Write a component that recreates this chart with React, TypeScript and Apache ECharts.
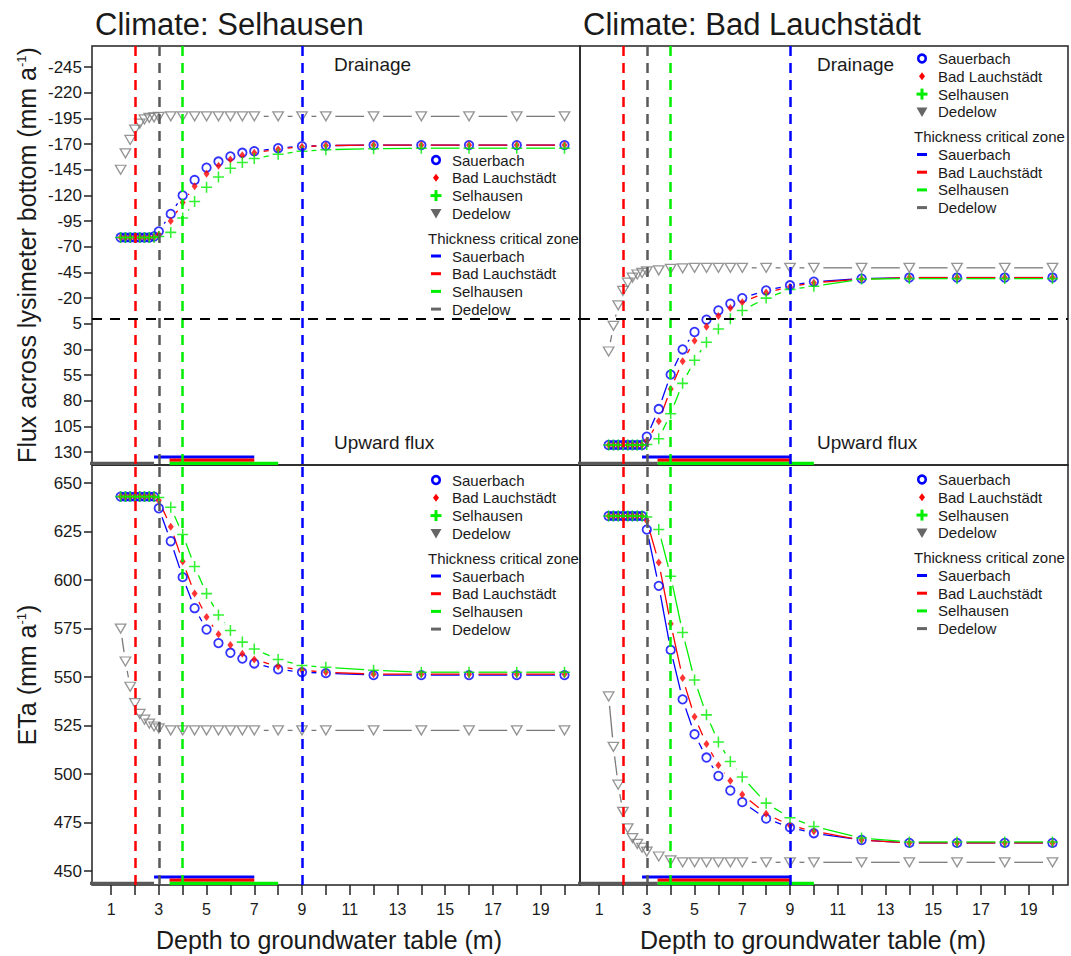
import React, { useEffect, useRef } from 'react';
import * as echarts from 'echarts';

const FONT = '"Liberation Sans", Arial, Helvetica, sans-serif';
const INK = '#1a1a1a';

// Sites: marker / line colours and the colour of their critical-zone bars
const sites = ['Sauerbach', 'Bad Lauchstädt', 'Selhausen', 'Dedelow'];
const siteColors = ['#0000ff', '#ff0000', '#00ee00', '#7a7a7a'];
const zoneColors = ['#0000ff', '#ff0000', '#00ee00', '#595959'];

// Depth (m) at which each site's dashed reference line is drawn
const criticalDepth = [9, 2, 4, 3];

// Thickness of the critical zone [from, to] (m), per site
const zoneSelhausenClimate = [[2.8, 7], [3.45, 7], [3.45, 8], [0, 2.8]];
const zoneBadLauchstaedtClimate = [[2.8, 9], [3.45, 9], [3.45, 10], [0, 3.45]];

// Depth to groundwater table (m)
const depth = [1.4, 1.6, 1.8, 2.0, 2.2, 2.4, 2.6, 2.8, 3.0, 3.5, 4.0, 4.5, 5.0, 5.5, 6.0, 6.5, 7.0, 8, 9, 10, 12, 14, 16, 18, 20];

// Axis ticks
const depthTicks = [1, 2, 3, 4, 5, 6, 7, 8, 9, 10, 11, 12, 13, 14, 15, 16, 17, 18, 19, 20];
const depthLabels = [1, 3, 5, 7, 9, 11, 13, 15, 17, 19];
const fluxTicks = [-245, -220, -195, -170, -145, -120, -95, -70, -45, -20, 5, 30, 55, 80, 105, 130];
const etaTicks = [450, 475, 500, 525, 550, 575, 600, 625, 650];

// Flux across lysimeter bottom (mm a-1), climate Selhausen
const fluxSelSauerbach = [-79, -79, -79, -79, -79, -79, -79, -80, -85, -102, -120, -135, -147, -153, -158, -161.5, -163, -166, -168, -168.5, -169, -169, -169, -169, -169];
const fluxSelBadLauchstaedt = [-79, -79, -79, -79, -79, -79, -79, -79.5, -82, -95, -113, -129, -141, -149, -155, -159, -161.5, -165, -167.5, -168.5, -169, -169, -169, -169, -169];
const fluxSelSelhausen = [-79, -79, -79, -79, -79, -79, -79, -79, -80, -84, -98, -114, -128, -138, -146.5, -152, -156, -160, -163, -164.5, -165.5, -166, -166, -166, -166];
const fluxSelDedelow = [-145, -161, -174, -184, -190, -194, -195.5, -196, -196.5, -197, -197, -197, -197, -197, -197, -197, -197, -197, -197, -197, -197, -197, -197, -197, -197];

// Flux across lysimeter bottom (mm a-1), climate Bad Lauchstädt
const fluxBLSauerbach = [123, 123, 123, 123, 123, 123, 123, 123, 115, 88, 54.5, 30, 13, 1, -8, -14.5, -20, -27.5, -32.5, -36, -39, -40, -40, -40, -40];
const fluxBLBadLauchstaedt = [123, 123, 123, 123, 123, 123, 123, 123, 119, 100, 68.5, 41.5, 21.5, 8, -2.5, -10.5, -16, -25.5, -31, -35, -38.5, -40, -40, -40, -40];
const fluxBLSelhausen = [123, 123, 123, 123, 123, 123, 123, 123, 122.5, 117, 92.5, 63, 40.5, 23, 10, 0, -8, -20, -28.5, -31.5, -38.5, -39, -39, -39, -39];
const fluxBLDedelow = [32, 7, -13, -27, -35, -40, -43, -44.5, -46, -47, -48.5, -49, -49.5, -49.5, -49.5, -49.5, -49.5, -49.5, -49.5, -49.5, -49.5, -49.5, -49.5, -49.5, -49.5];

// Actual evapotranspiration ETa (mm a-1), climate Selhausen
const etaSelSauerbach = [643, 643, 643, 643, 643, 643, 643, 643, 637, 620, 601.5, 585.5, 574.5, 567.5, 562.5, 559.5, 557, 554, 552.5, 552, 551, 551, 551, 551, 551];
const etaSelBadLauchstaedt = [643, 643, 643, 643, 643, 643, 643, 643, 641, 627.5, 609.5, 593, 581, 572, 566.5, 562, 559, 555.5, 553.5, 552.5, 551.5, 551.5, 551.5, 551.5, 551.5];
const etaSelSelhausen = [643, 643, 643, 643, 643, 643, 643, 643, 642.5, 637.5, 623.5, 607, 593, 582, 574, 568, 564.5, 559, 556, 555, 553.5, 552.5, 552.5, 552.5, 552.5];
const etaSelDedelow = [575, 558, 545, 536.5, 531, 528, 526, 524.5, 523.5, 522.5, 522.5, 522.5, 522.5, 522.5, 522.5, 522.5, 522.5, 522.5, 522.5, 522.5, 522.5, 522.5, 522.5, 522.5, 522.5];

// Actual evapotranspiration ETa (mm a-1), climate Bad Lauchstädt
const etaBLSauerbach = [633, 633, 633, 633, 633, 633, 633, 633, 626, 597, 564, 538.5, 520.5, 508.5, 499, 491.5, 485.5, 477, 472.5, 469.5, 466, 464.5, 464.5, 464.5, 464.5];
const etaBLBadLauchstaedt = [633, 633, 633, 633, 633, 633, 633, 633, 630.5, 609, 577.5, 549.5, 529.5, 515.5, 504.5, 496.5, 489.5, 479.5, 473.5, 470.5, 466, 464.5, 464.5, 464.5, 464.5];
const etaBLSelhausen = [633, 633, 633, 633, 633, 633, 633, 633, 632.5, 626, 602, 573, 548.5, 530.5, 516.5, 506.5, 498.5, 485, 477.5, 473, 467, 465, 465, 465, 465];
const etaBLDedelow = [540, 514, 494.5, 480.5, 472, 467, 464, 462, 460, 457.5, 455.5, 454.5, 454.5, 454.5, 454.5, 454.5, 454.5, 454.5, 454.5, 454.5, 454.5, 454.5, 454.5, 454.5, 454.5];

// Axis extents
const X_MIN = 0.2;
const X_MAX = 20.65;
const FLUX_MIN = -265.5;
const FLUX_MAX = 142.5;
const ETA_MIN = 442.8;
const ETA_MAX = 659.3;

const PLUS_PATH = 'path://M43,0H57V43H100V57H57V100H43V57H0V43H43Z';

const markerStyles: any[] = [
  { symbol: 'circle', symbolSize: 8.5, itemStyle: { color: 'rgba(0,0,0,0)', borderColor: '#0000ff', borderWidth: 1.8 } },
  { symbol: 'diamond', symbolSize: [6, 8], itemStyle: { color: '#ff0000' } },
  { symbol: PLUS_PATH, symbolSize: 11, itemStyle: { color: '#00ee00' } },
  { symbol: 'triangle', symbolSize: [10.5, 9], symbolRotate: 180, itemStyle: { color: 'rgba(0,0,0,0)', borderColor: '#7a7a7a', borderWidth: 1.3 } },
];

// Line between consecutive points, left open around each point
function gapLine(idx: number, xs: number[], ys: number[], color: string) {
  const data = xs.slice(0, -1).map((x, i) => [x, ys[i], xs[i + 1], ys[i + 1]]);
  return {
    type: 'custom',
    xAxisIndex: idx,
    yAxisIndex: idx,
    clip: true,
    silent: true,
    z: 2,
    encode: { x: [0, 2], y: [1, 3] },
    data,
    renderItem: (params: any, api: any) => {
      const p0 = api.coord([api.value(0), api.value(1)]);
      const p1 = api.coord([api.value(2), api.value(3)]);
      const dx = p1[0] - p0[0];
      const dy = p1[1] - p0[1];
      const d = Math.hypot(dx, dy);
      const gap = 9.5;
      if (d <= 2 * gap + 0.5) return { type: 'group', children: [] };
      const ux = dx / d;
      const uy = dy / d;
      return {
        type: 'line',
        shape: { x1: p0[0] + ux * gap, y1: p0[1] + uy * gap, x2: p1[0] - ux * gap, y2: p1[1] - uy * gap },
        style: { stroke: color, lineWidth: 1.3 },
      };
    },
  };
}

function referenceLines(isFlux: boolean) {
  const data: any[] = [];
  // red, gray, green, blue
  [1, 3, 2, 0].forEach((s) => {
    data.push({ xAxis: criticalDepth[s], lineStyle: { color: zoneColors[s], type: [10, 7], width: 2.5 } });
  });
  if (isFlux) data.push({ yAxis: 0, lineStyle: { color: '#000000', type: [10, 8], width: 2.2 } });
  return { silent: true, symbol: ['none', 'none'], label: { show: false }, animation: false, data };
}

function panelSeries(idx: number, values: number[][], zones: number[][], isFlux: boolean) {
  const out: any[] = [];
  values.forEach((ys, s) => out.push(gapLine(idx, depth, ys, siteColors[s])));
  values.forEach((ys, s) => {
    out.push({
      type: 'scatter',
      name: sites[s],
      xAxisIndex: idx,
      yAxisIndex: idx,
      data: depth.map((x, i) => [x, ys[i]]),
      ...markerStyles[s],
      z: 3,
      silent: true,
      clip: true,
      emphasis: { disabled: true },
      markLine: s === 0 ? referenceLines(isFlux) : undefined,
    });
  });
  // critical-zone bars along the bottom edge of the panel (pixel offsets from the bottom)
  const offsets = [8, 4.8, 1.6, 1.6];
  zones.forEach((zr, s) => {
    const y = isFlux
      ? FLUX_MAX - offsets[s] * (FLUX_MAX - FLUX_MIN) / 419
      : ETA_MIN + offsets[s] * (ETA_MAX - ETA_MIN) / 420;
    out.push({
      type: 'line',
      xAxisIndex: idx,
      yAxisIndex: idx,
      data: [[zr[0], y], [zr[1], y]],
      symbol: 'none',
      silent: true,
      clip: true,
      z: 4,
      lineStyle: { color: zoneColors[s], width: 3.2 },
    });
  });
  return out;
}

function txt(x: number, y: number, text: string, fontSize: number, extra: any = {}) {
  return {
    type: 'text',
    x,
    y,
    z: 10,
    silent: true,
    ...extra,
    style: {
      text,
      fontSize,
      fontFamily: FONT,
      fill: INK,
      align: extra.align || 'left',
      verticalAlign: 'middle',
      textAlign: extra.align || 'left',
      textVerticalAlign: 'middle',
      ...(extra.style || {}),
    },
  };
}

function legend(x0: number, y0: number) {
  const step = 17.8;
  const mx = x0 + 8;
  const tx = x0 + 24;
  const els: any[] = [];
  const rows1 = [0, 1, 2, 3].map((k) => y0 + k * step);
  const titleY = y0 + 78.3;
  const rows2 = [1, 2, 3, 4].map((k) => titleY + 17.7 * k);
  // marker symbols
  let y = rows1[0];
  els.push({ type: 'circle', z: 10, silent: true, shape: { cx: mx, cy: y, r: 3.8 }, style: { fill: 'none', stroke: '#0000ff', lineWidth: 2.6 } });
  y = rows1[1];
  els.push({ type: 'polygon', z: 10, silent: true, shape: { points: [[mx, y - 4], [mx + 3, y], [mx, y + 4], [mx - 3, y]] }, style: { fill: '#ff0000' } });
  y = rows1[2];
  els.push({ type: 'rect', z: 10, silent: true, shape: { x: mx - 5.5, y: y - 1.5, width: 11, height: 3 }, style: { fill: '#00ee00' } });
  els.push({ type: 'rect', z: 10, silent: true, shape: { x: mx - 1.5, y: y - 5.5, width: 3, height: 11 }, style: { fill: '#00ee00' } });
  y = rows1[3];
  els.push({ type: 'polygon', z: 10, silent: true, shape: { points: [[mx - 5.5, y - 4.5], [mx + 5.5, y - 4.5], [mx, y + 5]] }, style: { fill: '#666666' } });
  rows1.forEach((ry, s) => els.push(txt(tx, ry, sites[s], 15)));
  els.push(txt(x0, titleY, 'Thickness critical zone', 15));
  rows2.forEach((ry, s) => {
    els.push({ type: 'rect', z: 10, silent: true, shape: { x: mx - 5, y: ry - 1.5, width: 10, height: 3 }, style: { fill: s === 3 ? '#666666' : zoneColors[s] } });
    els.push(txt(tx, ry, sites[s], 15));
  });
  return els;
}

const grids = [
  { left: 92, top: 46, width: 488, height: 419 },
  { left: 580, top: 46, width: 488, height: 419 },
  { left: 92, top: 465, width: 488, height: 420 },
  { left: 580, top: 465, width: 488, height: 420 },
];

function buildOption() {
  const xAxis = grids.map((_, i) => ({
    type: 'value',
    gridIndex: i,
    min: X_MIN,
    max: X_MAX,
    splitLine: { show: false },
    axisLine: { show: false },
    axisTick: i >= 2
      ? { show: true, inside: false, length: 10, customValues: depthTicks, lineStyle: { color: '#222', width: 1.5 } }
      : { show: false },
    axisLabel: i >= 2
      ? { show: true, customValues: depthLabels, margin: 16, fontSize: 16, color: INK, fontFamily: FONT }
      : { show: false },
  }));
  const yAxis = grids.map((_, i) => {
    const isFlux = i < 2;
    const showLabels = i === 0 || i === 2;
    return {
      type: 'value',
      gridIndex: i,
      min: isFlux ? FLUX_MIN : ETA_MIN,
      max: isFlux ? FLUX_MAX : ETA_MAX,
      inverse: isFlux,
      splitLine: { show: false },
      axisLine: { show: false },
      axisTick: showLabels
        ? { show: true, inside: false, length: 8, customValues: isFlux ? fluxTicks : etaTicks, lineStyle: { color: '#222', width: 1.5 } }
        : { show: false },
      axisLabel: showLabels
        ? { show: true, customValues: isFlux ? fluxTicks : etaTicks, margin: 10, fontSize: 17, color: INK, fontFamily: FONT }
        : { show: false },
    };
  });

  const series = [
    ...panelSeries(0, [fluxSelSauerbach, fluxSelBadLauchstaedt, fluxSelSelhausen, fluxSelDedelow], zoneSelhausenClimate, true),
    ...panelSeries(1, [fluxBLSauerbach, fluxBLBadLauchstaedt, fluxBLSelhausen, fluxBLDedelow], zoneBadLauchstaedtClimate, true),
    ...panelSeries(2, [etaSelSauerbach, etaSelBadLauchstaedt, etaSelSelhausen, etaSelDedelow], zoneSelhausenClimate, false),
    ...panelSeries(3, [etaBLSauerbach, etaBLBadLauchstaedt, etaBLSelhausen, etaBLDedelow], zoneBadLauchstaedtClimate, false),
  ];

  const supRich = { sup: { fontSize: 13, fontFamily: FONT, fill: INK, verticalAlign: 'top' } };

  const graphic: any[] = [
    txt(95, 24, 'Climate: Selhausen', 31),
    txt(583, 24, 'Climate: Bad Lauchstädt', 31),
    txt(334, 64, 'Drainage', 19),
    txt(817, 64, 'Drainage', 19),
    txt(334, 442, 'Upward flux', 19),
    txt(817, 442, 'Upward flux', 19),
    txt(329, 940, 'Depth to groundwater table (m)', 25, { align: 'center' }),
    txt(813, 940, 'Depth to groundwater table (m)', 25, { align: 'center' }),
    txt(27, 255, 'Flux across lysimeter bottom (mm a{sup|-1})', 25, { align: 'center', rotation: Math.PI / 2, style: { rich: supRich } }),
    txt(27, 675, 'ETa (mm a{sup|-1})', 25, { align: 'center', rotation: Math.PI / 2, style: { rich: supRich } }),
    ...legend(428, 160),
    ...legend(914, 58.5),
    ...legend(428, 480),
    ...legend(914, 479.5),
  ];

  return {
    animation: false,
    backgroundColor: '#ffffff',
    textStyle: { fontFamily: FONT },
    grid: grids.map((g) => ({
      ...g,
      show: true,
      borderColor: '#222222',
      borderWidth: 1.5,
      backgroundColor: 'rgba(0,0,0,0)',
      containLabel: false,
      outerBoundsMode: 'none',
    })),
    xAxis,
    yAxis,
    series,
    graphic,
  };
}

export default function App() {
  const ref = useRef<HTMLDivElement>(null);
  useEffect(() => {
    if (!ref.current) return;
    const chart = echarts.init(ref.current, undefined, { renderer: 'svg' });
    chart.setOption(buildOption() as any);
    return () => chart.dispose();
  }, []);
  return (
    <div
      ref={ref}
      style={{ position: 'absolute', left: 0, top: 0, width: 1071, height: 956, background: '#fff' }}
    />
  );
}
